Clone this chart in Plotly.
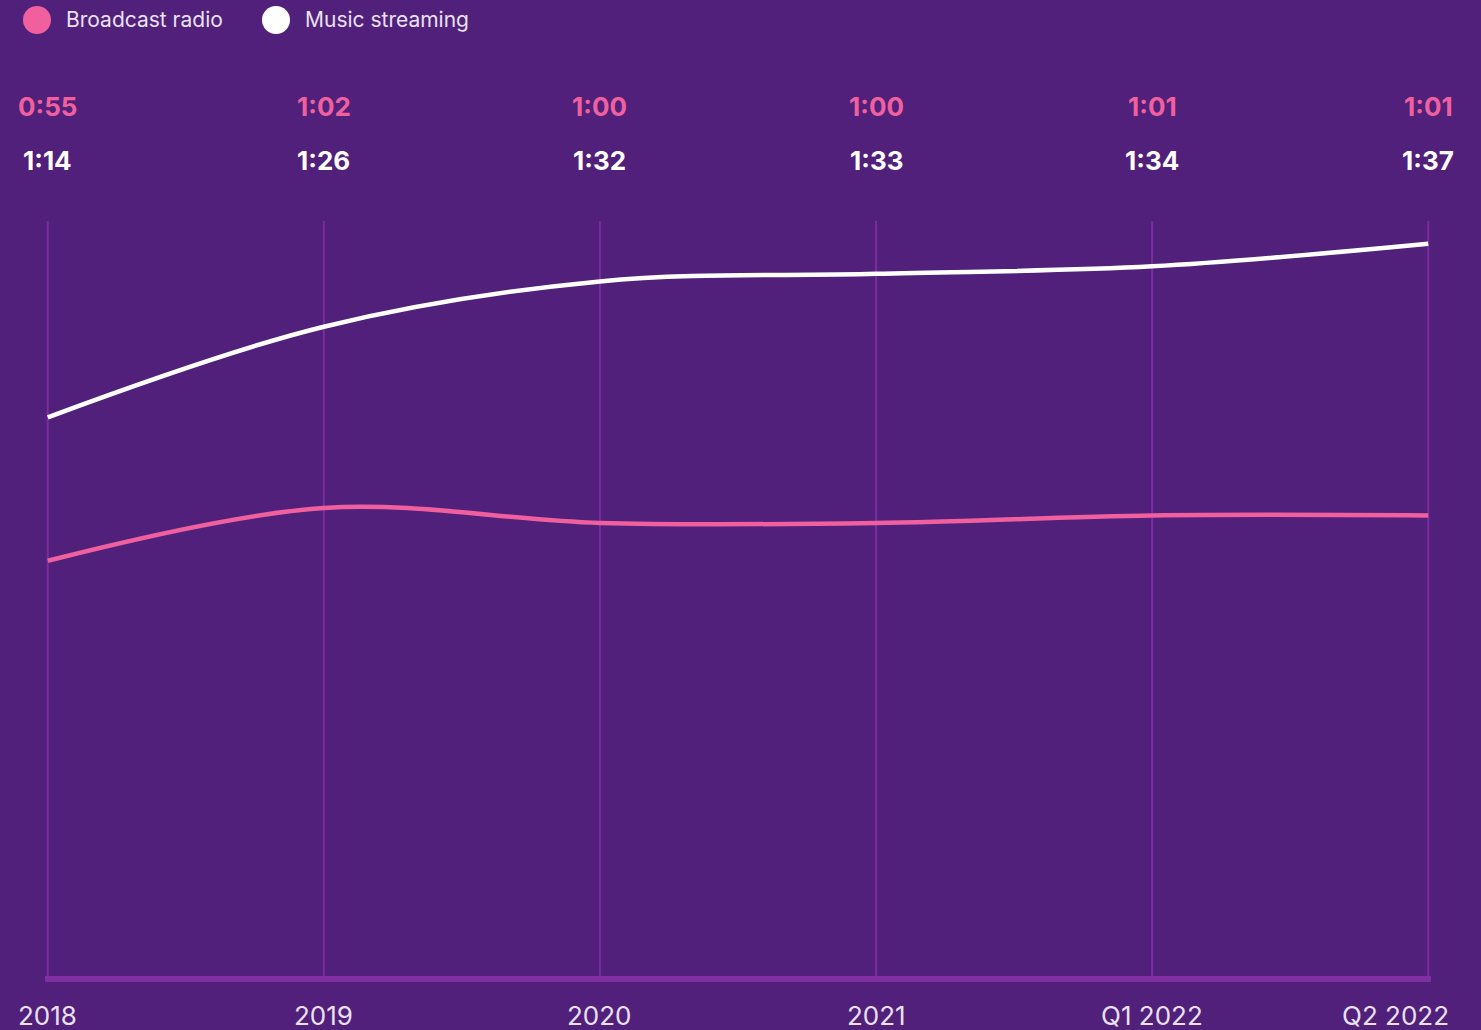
import plotly.graph_objects as go

# Average daily listening time, in minutes
periods = ["2018", "2019", "2020", "2021", "Q1 2022", "Q2 2022"]
radio_minutes = [55, 62, 60, 60, 61, 61]
streaming_minutes = [74, 86, 92, 93, 94, 97]

BG = "#51207a"
PINK = "#f0609f"
WHITE = "#ffffff"
GRID = "#7a2d9e"
AXIS = "#802fa2"
TEXT = "#e9e1f1"
FONT = "Inter, 'Open Sans', sans-serif"

xpos = list(range(len(periods)))
PAD = 0.01  # small extra room so the edge guides are not clipped


def fmt(m):
    return f"{m // 60}:{m % 60:02d}"


fig = go.Figure()
fig.add_trace(go.Scatter(
    x=xpos, y=radio_minutes, mode="lines", name="Broadcast radio",
    line=dict(color=PINK, width=4.5, shape="spline", smoothing=1),
    showlegend=False, hoverinfo="skip", cliponaxis=False,
))
fig.add_trace(go.Scatter(
    x=xpos, y=streaming_minutes, mode="lines", name="Music streaming",
    line=dict(color=WHITE, width=4.5, shape="spline", smoothing=1),
    showlegend=False, hoverinfo="skip", cliponaxis=False,
))

W, H = 1481, 1030
L, R, T, B = 45, 50, 221, 54


def px_to_paper_x(px):
    return (px - L) / (W - L - R)


def px_to_paper_y(py):
    return (H - B - py) / (H - T - B)


annotations = []
shapes = []

# vertical guides at every period
for i in xpos:
    shapes.append(dict(
        type="line", xref="x", yref="paper", x0=i, x1=i, y0=0, y1=1,
        line=dict(color=GRID, width=2), layer="below",
    ))

# value rows above the plot
for i in xpos:
    annotations.append(dict(
        x=i, xref="x", y=px_to_paper_y(106), yref="paper", yanchor="middle",
        text=f"<b>{fmt(radio_minutes[i])}</b>", showarrow=False,
        font=dict(family=FONT, size=26, color=PINK),
    ))
    annotations.append(dict(
        x=i, xref="x", y=px_to_paper_y(160), yref="paper", yanchor="middle",
        text=f"<b>{fmt(streaming_minutes[i])}</b>", showarrow=False,
        font=dict(family=FONT, size=26, color=WHITE),
    ))

# period labels under the baseline; the last one is kept inside the frame
for i, p in zip(xpos, periods):
    last = i == xpos[-1]
    annotations.append(dict(
        x=i, xref="x", y=px_to_paper_y(1015), yref="paper", yanchor="middle",
        xanchor="right" if last else "center", xshift=23 if last else 0,
        text=p, showarrow=False,
        font=dict(family=FONT, size=26, color=TEXT),
    ))

# legend
legend_items = [("Broadcast radio", PINK, 37), ("Music streaming", WHITE, 276)]
for label, color, cx in legend_items:
    shapes.append(dict(
        type="circle", xref="paper", yref="paper",
        x0=px_to_paper_x(cx - 14), x1=px_to_paper_x(cx + 14),
        y0=px_to_paper_y(20 + 14), y1=px_to_paper_y(20 - 14),
        fillcolor=color, line=dict(width=0), layer="above",
    ))
    annotations.append(dict(
        x=px_to_paper_x(cx + 27), xref="paper", y=px_to_paper_y(20), yref="paper",
        xanchor="left", yanchor="middle", text=label, showarrow=False,
        font=dict(family=FONT, size=21, color=TEXT),
    ))

fig.update_layout(
    width=W, height=H,
    margin=dict(l=L, r=R, t=T, b=B),
    paper_bgcolor=BG, plot_bgcolor=BG,
    annotations=annotations, shapes=shapes,
    showlegend=False,
    xaxis=dict(
        range=[-PAD, len(periods) - 1 + PAD],
        showgrid=False, showticklabels=False, ticks="", zeroline=False,
        showline=True, linecolor=AXIS, linewidth=6,
    ),
    yaxis=dict(
        range=[0, 100], showgrid=False, zeroline=False,
        showticklabels=False, ticks="", showline=False,
    ),
)

fig.write_html("out.html")
